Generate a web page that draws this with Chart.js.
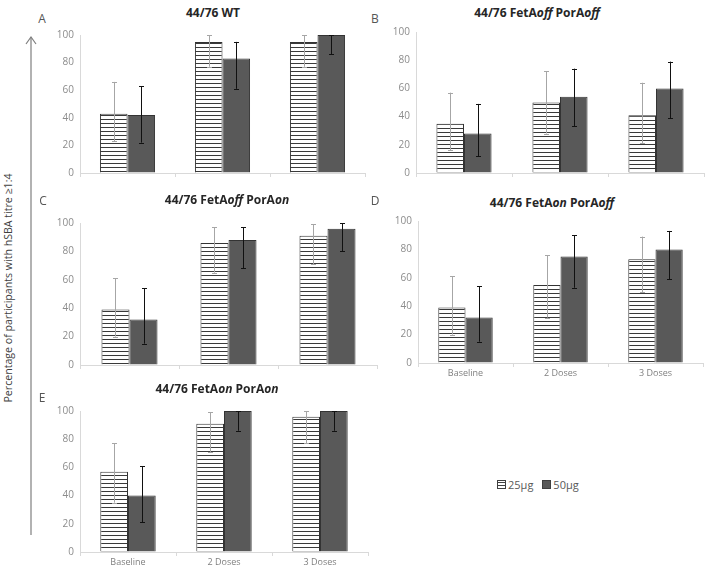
<!DOCTYPE html>
<html><head><meta charset="utf-8">
<script src="https://cdn.jsdelivr.net/npm/chart.js@4/dist/chart.umd.min.js"></script>
<style>
html,body{margin:0;padding:0;background:#fff;}
body{width:705px;height:569px;overflow:hidden;position:relative;font-family:'Open Sans',sans-serif;}
canvas.cv{position:absolute;}
.title{position:absolute;transform:translate(-50%,-50%);font-weight:bold;font-size:12px;color:#262626;white-space:nowrap;}
.letter{position:absolute;transform:translate(-50%,-50%);font-size:12px;color:#555;}
.ytitle{position:absolute;left:8px;top:288px;transform:translate(-50%,-50%) rotate(-90deg);font-size:10.6px;color:#404040;white-space:nowrap;}
.legend{position:absolute;left:497px;top:477px;font-size:11px;color:#595959;white-space:nowrap;display:flex;align-items:center;}
.sw{display:inline-block;width:7px;height:7px;border:1px solid #404040;margin-right:2px;}
.sw.h{background:repeating-linear-gradient(to bottom,#fff 0,#fff 1px,#404040 1px,#404040 2px,#fff 2px,#fff 3px);}
.sw.d{background:#595959;}
</style></head>
<body>
<svg style="position:absolute;left:0;top:0" width="60" height="569">
  <line x1="31" y1="37" x2="31" y2="535" stroke="#7f7f7f" stroke-width="1.2"/>
  <polyline points="26,44 31,37 36,44" fill="none" stroke="#7f7f7f" stroke-width="1.2"/>
</svg>
<div class="ytitle">Percentage of participants with hSBA titre ≥1:4</div>
<div class="legend"><span class="sw h"></span>25µg<span style="display:inline-block;width:9px"></span><span class="sw d"></span>50µg</div>
<script>
// ---- data ----
const categories = ['Baseline', '2 Doses', '3 Doses'];
const seriesNames = ['25µg', '50µg'];
const yTicks = [0, 20, 40, 60, 80, 100];

// A: 44/76 WT
const wt25 = [43, 95, 95];      const wt25Low = [23, 77, 77];   const wt25High = [66, 100, 100];
const wt50 = [42, 83, 100];     const wt50Low = [22, 61, 86];   const wt50High = [63, 95, 100];
// B: FetAoff PorAoff
const offOff25 = [35, 50, 41];  const offOff25Low = [16, 28, 21]; const offOff25High = [57, 72, 64];
const offOff50 = [28, 54, 60];  const offOff50Low = [12, 33, 39]; const offOff50High = [49, 74, 79];
// C: FetAoff PorAon
const offOn25 = [39, 86, 91];   const offOn25Low = [20, 65, 71];  const offOn25High = [61, 97, 99];
const offOn50 = [32, 88, 96];   const offOn50Low = [15, 68, 80];  const offOn50High = [54, 97, 100];
// D: FetAon PorAoff
const onOff25 = [39, 55, 73];   const onOff25Low = [20, 32, 50];  const onOff25High = [61, 76, 89];
const onOff50 = [32, 75, 80];   const onOff50Low = [15, 53, 59];  const onOff50High = [54, 90, 93];
// E: FetAon PorAon
const onOn25 = [57, 91, 96];    const onOn25Low = [35, 71, 77];   const onOn25High = [77, 99, 100];
const onOn50 = [40, 100, 100];  const onOn50Low = [21, 86, 86];   const onOn50High = [61, 100, 100];

// ---- layout (positions of each panel's plot area) ----
const panels = [
  {letter:'A', title:'44/76 WT', L:80, T:33, R:365, B:173, cp:0.58, showX:false, tx:213, ty:12, lx:42, ly:18,
   d25:[wt25, wt25Low, wt25High], d50:[wt50, wt50Low, wt50High]},
  {letter:'B', title:'44/76 FetA<i>off</i> PorA<i>off</i>', L:416, T:30, R:704, B:173, cp:0.574, showX:false, tx:537, ty:12, lx:375, ly:18,
   d25:[offOff25, offOff25Low, offOff25High], d50:[offOff50, offOff50Low, offOff50High]},
  {letter:'C', title:'44/76 FetA<i>off</i> PorA<i>on</i>', L:80, T:221, R:377, B:365, cp:0.566, showX:false, tx:227, ty:199, lx:43, ly:200,
   d25:[offOn25, offOn25Low, offOn25High], d50:[offOn50, offOn50Low, offOn50High]},
  {letter:'D', title:'44/76 FetA<i>on</i> PorA<i>off</i>', L:418, T:219, R:703, B:363, cp:0.573, showX:true, tx:552, ty:202, lx:375, ly:200,
   d25:[onOff25, onOff25Low, onOff25High], d50:[onOff50, onOff50Low, onOff50High]},
  {letter:'E', title:'44/76 FetA<i>on</i> PorA<i>on</i>', L:80, T:409, R:368, B:552, cp:0.577, showX:true, tx:217, ty:388, lx:42, ly:397,
   d25:[onOn25, onOn25Low, onOn25High], d50:[onOn50, onOn50Low, onOn50High]}
];

const YW = 40, PT = 10, XH = 20;

function hatchPattern() {
  const c = document.createElement('canvas');
  c.width = 4; c.height = 4;
  const g = c.getContext('2d');
  g.fillStyle = '#ffffff'; g.fillRect(0, 0, 4, 4);
  g.fillStyle = '#3a3a3a'; g.fillRect(0, 0, 4, 1);
  return g.createPattern(c, 'repeat');
}

const errorBars = {
  id: 'errorBars',
  afterDatasetsDraw(chart) {
    const ctx = chart.ctx;
    const ys = chart.scales.y;
    chart.data.datasets.forEach((ds, i) => {
      const meta = chart.getDatasetMeta(i);
      meta.data.forEach((el, j) => {
        const x = Math.round(el.x) + 0.5;
        const y1 = ys.getPixelForValue(ds.errLow[j]);
        const y2 = ys.getPixelForValue(ds.errHigh[j]);
        ctx.save();
        ctx.strokeStyle = ds.errColor;
        ctx.lineWidth = 1;
        ctx.beginPath();
        ctx.moveTo(x, y1); ctx.lineTo(x, y2);
        ctx.moveTo(x - 2.5, Math.round(y1) + 0.5); ctx.lineTo(x + 2.5, Math.round(y1) + 0.5);
        ctx.moveTo(x - 2.5, Math.round(y2) + 0.5); ctx.lineTo(x + 2.5, Math.round(y2) + 0.5);
        ctx.stroke();
        ctx.restore();
      });
    });
  }
};

panels.forEach(p => {
  const t = document.createElement('div');
  t.className = 'title'; t.style.left = p.tx + 'px'; t.style.top = p.ty + 'px'; t.innerHTML = p.title;
  document.body.appendChild(t);
  const l = document.createElement('div');
  l.className = 'letter'; l.style.left = p.lx + 'px'; l.style.top = p.ly + 'px'; l.textContent = p.letter;
  document.body.appendChild(l);

  const cv = document.createElement('canvas');
  cv.className = 'cv';
  const w = p.R - p.L + YW + 1, h = p.B - p.T + PT + XH;
  cv.width = w; cv.height = h;
  cv.style.left = (p.L - YW) + 'px'; cv.style.top = (p.T - PT) + 'px';
  cv.style.width = w + 'px'; cv.style.height = h + 'px';
  document.body.appendChild(cv);

  new Chart(cv, {
    type: 'bar',
    data: {
      labels: categories,
      datasets: [
        {label: seriesNames[0], data: p.d25[0], errLow: p.d25[1], errHigh: p.d25[2], errColor: '#a6a6a6',
         backgroundColor: hatchPattern(), borderColor: '#333333', borderWidth: 1},
        {label: seriesNames[1], data: p.d50[0], errLow: p.d50[1], errHigh: p.d50[2], errColor: '#111111',
         backgroundColor: '#595959', borderColor: '#333333', borderWidth: 1}
      ]
    },
    options: {
      responsive: false, animation: false, devicePixelRatio: 1,
      layout: {padding: {top: PT, left: 0, right: 1, bottom: 0}},
      plugins: {legend: {display: false}, title: {display: false}, tooltip: {enabled: false}},
      datasets: {bar: {barPercentage: 1, categoryPercentage: p.cp}},
      scales: {
        x: {
          offset: true,
          grid: {display: true, drawOnChartArea: false, drawTicks: true, tickLength: 4, color: '#d9d9d9', offset: true},
          border: {color: '#d9d9d9'},
          ticks: {display: p.showX, color: '#7f7f7f', font: {family: 'Open Sans', size: 9}, padding: 1, maxRotation: 0},
          afterFit(s) { s.height = XH; }
        },
        y: {
          min: 0, max: 100,
          afterBuildTicks(s) { s.ticks = yTicks.map(v => ({value: v})); },
          grid: {display: true, drawOnChartArea: false, drawTicks: false},
          border: {color: '#d9d9d9'},
          ticks: {color: '#8c8c8c', font: {family: 'Open Sans', size: 10}, padding: 6},
          afterFit(s) { s.width = YW; }
        }
      }
    },
    plugins: [errorBars]
  });
});
</script>
</body></html>
